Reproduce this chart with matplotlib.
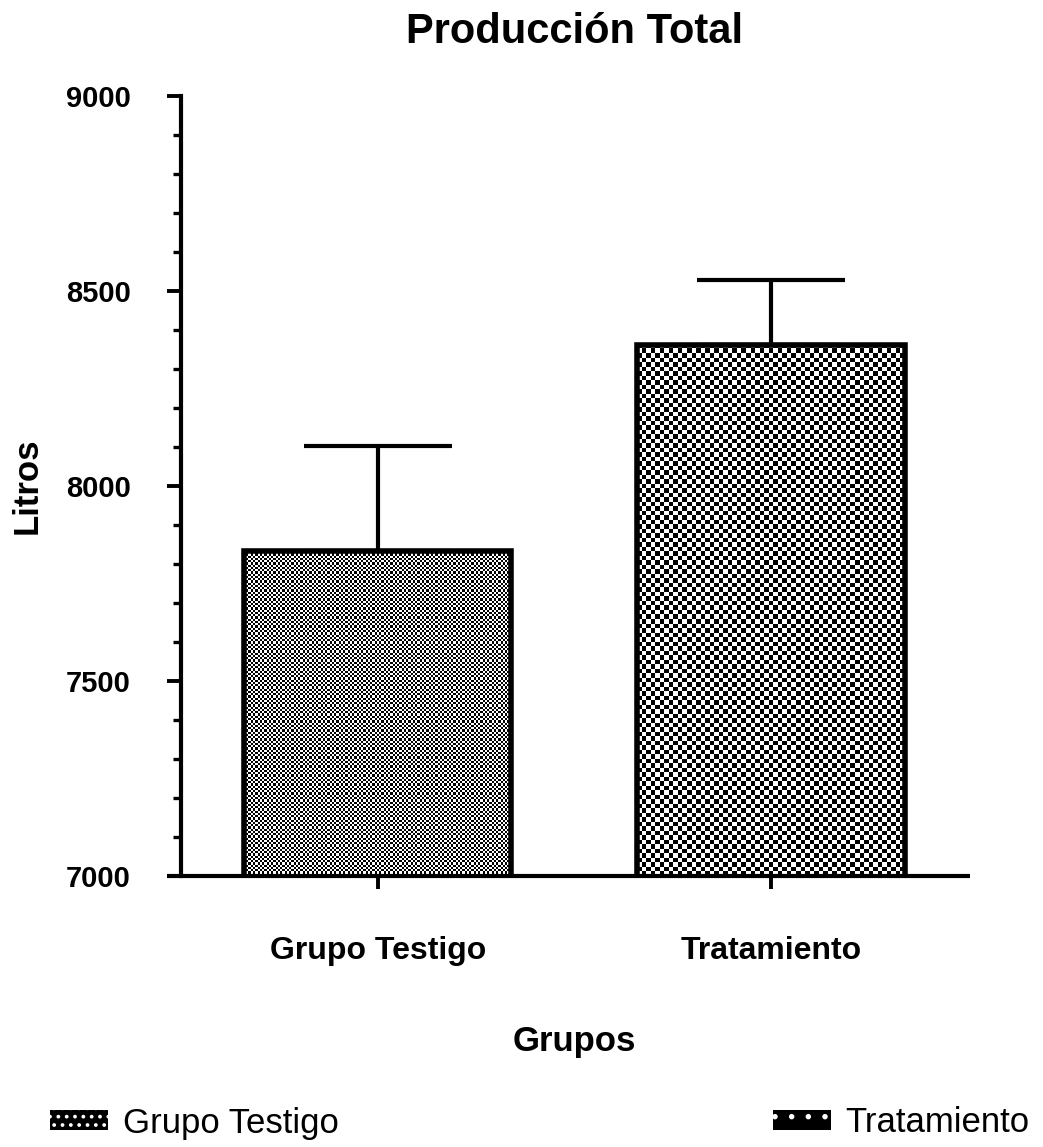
import matplotlib
matplotlib.use("Agg")
import matplotlib.pyplot as plt
from matplotlib.patches import Patch
from matplotlib.transforms import Bbox
import numpy as np

plt.rcParams['font.family'] = ['Liberation Sans', 'DejaVu Sans']
plt.rcParams['hatch.linewidth'] = 1.5

grupos = ['Grupo Testigo', 'Tratamiento']
medias = [7833, 8362]
errores = [270, 165]
y_ticks = [7000, 7500, 8000, 8500, 9000]

# checker cell size in pixels for each bar
celdas = [2.25, 4.5]


def checker(ny, nx):
    return np.indices((ny, nx)).sum(axis=0) % 2


fig = plt.figure(figsize=(10.43, 11.47), dpi=100)
ax = fig.add_axes([181 / 1043, 1 - 876 / 1147, 786.5 / 1043, 780 / 1147])

x = np.arange(len(grupos))
bars = ax.bar(x, medias, width=0.68, facecolor='none', edgecolor='black',
              linewidth=4, zorder=3)
ax.errorbar(x, medias, yerr=[[0] * len(errores), errores], fmt='none',
            ecolor='black', elinewidth=3, capsize=53, capthick=3, zorder=4)

ax.set_xlim(-0.5, 1.5)
ax.set_ylim(y_ticks[0], y_ticks[-1])

# checkerboard fill clipped to each bar
for patch, cell in zip(bars.patches, celdas):
    bb = Bbox.intersection(patch.get_bbox(), ax.viewLim)
    px = ax.transData.transform([[bb.x0, bb.y0], [bb.x1, bb.y1]])
    nx = int(round((px[1, 0] - px[0, 0]) / cell))
    ny = int(round((px[1, 1] - px[0, 1]) / cell))
    im = ax.imshow(checker(ny, nx), cmap='gray', interpolation='nearest',
                   extent=[bb.x0, bb.x1, bb.y0, bb.y1], aspect='auto', zorder=2)
    im.set_clip_path(patch)

ax.set_aspect('auto')
ax.set_xlim(-0.5, 1.5)
ax.set_ylim(y_ticks[0], y_ticks[-1])

for s in ['top', 'right', 'bottom']:
    ax.spines[s].set_visible(False)
ax.spines['left'].set_linewidth(3)
ax.plot([-0.018, 1.003], [0, 0], transform=ax.transAxes, color='black',
        lw=3, clip_on=False, zorder=5, solid_capstyle='butt')

ax.set_yticks(y_ticks)
ax.set_yticks(np.arange(y_ticks[0], y_ticks[-1], 100), minor=True)
ax.set_xticks(x)
ax.set_xticklabels(grupos, fontsize=23, fontweight='bold')
ax.tick_params(axis='y', which='major', length=10, width=2.8, pad=26,
               labelsize=21)
ax.tick_params(axis='y', which='minor', length=5.5, width=2.4)
ax.tick_params(axis='x', which='major', length=9.5, width=2.8, pad=34)
for t in ax.get_yticklabels():
    t.set_fontweight('bold')

ax.set_title('Producción Total', fontsize=30, fontweight='bold', pad=38)
ax.set_xlabel('Grupos', fontsize=25, fontweight='bold', labelpad=42)
ax.set_ylabel('Litros', fontsize=25, fontweight='bold')
ax.yaxis.set_label_coords(-0.196, 0.5)
ax.yaxis.label.set_va('center')

handles = [Patch(facecolor='black', edgecolor='white', linewidth=0, hatch='..'),
           Patch(facecolor='black', edgecolor='white', linewidth=0, hatch='.')]
fig.legend(handles, grupos, loc='center left',
           bbox_to_anchor=(50 / 1043, 1 - 1123 / 1147), ncol=2, frameon=False,
           fontsize=25, handlelength=1.67, handleheight=0.52,
           handletextpad=0.43, columnspacing=12.5, borderpad=0,
           borderaxespad=0)

fig.savefig('out.png', dpi=100)
